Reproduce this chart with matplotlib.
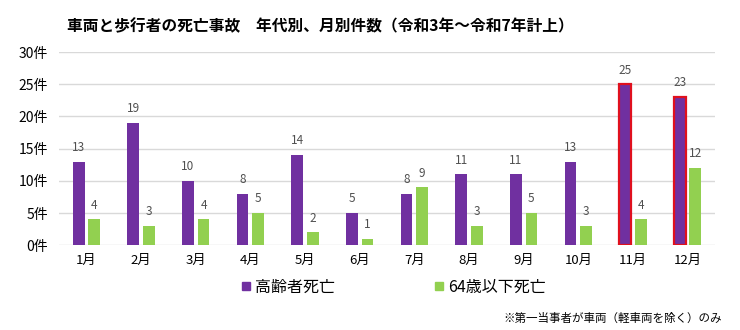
import numpy as np
import matplotlib.pyplot as plt
from matplotlib.lines import Line2D

plt.rcParams['font.family'] = ['Noto Sans CJK JP', 'DejaVu Sans']

months = ['1月', '2月', '3月', '4月', '5月', '6月', '7月', '8月', '9月', '10月', '11月', '12月']
elderly = [13, 19, 10, 8, 14, 5, 8, 11, 11, 13, 25, 23]
under64 = [4, 3, 4, 5, 2, 1, 9, 3, 5, 3, 4, 12]
highlight = ['11月', '12月']
yticks = [0, 5, 10, 15, 20, 25, 30]

purple = '#7030A0'
green = '#92D050'

fig = plt.figure(figsize=(7.4, 3.3), dpi=100)
ax = fig.add_axes([0.08, 0.257, 0.886, 0.585])

x = np.arange(len(months))
w = 0.215
edge = ['#E0101E' if m in highlight else purple for m in months]
lw = [1.6 if m in highlight else 0 for m in months]
b1 = ax.bar(x - 0.143, elderly, w, color=purple, edgecolor=edge, linewidth=lw, zorder=3)
b2 = ax.bar(x + 0.143, under64, w, color=green, zorder=3)

for rects, vals in [(b1, elderly), (b2, under64)]:
    for r, v in zip(rects, vals):
        ax.text(r.get_x() + r.get_width() / 2, v + 1.2, str(v), ha='center', va='bottom',
                fontsize=8.5, color='#505050')

ax.set_xlim(-0.5, len(months) - 0.5)
ax.set_ylim(0, 30)
ax.set_yticks(yticks)
ax.set_yticklabels([f'{t}件' for t in yticks], fontsize=10)
ax.set_xticks(x)
ax.set_xticklabels(months, fontsize=9.5)
ax.tick_params(length=0, pad=6)
ax.tick_params(axis='y', pad=8)
ax.grid(axis='y', color='#D9D9D9', linewidth=1, zorder=0)
for s in ax.spines.values():
    s.set_visible(False)

fig.text(0.091, 0.92, '車両と歩行者の死亡事故　年代別、月別件数（令和3年～令和7年計上）',
         fontsize=11.3, fontweight='bold', va='center', ha='left')

handles = [Line2D([], [], marker='s', color=purple, linestyle='none', markersize=6),
           Line2D([], [], marker='s', color=green, linestyle='none', markersize=6)]
fig.legend(handles, ['高齢者死亡', '64歳以下死亡'], loc='center left',
           bbox_to_anchor=(0.307, 0.13), ncol=2, frameon=False, fontsize=11.5,
           handlelength=0.6, handletextpad=0.25, columnspacing=6.2)

fig.text(0.976, 0.036, '※第一当事者が車両（軽車両を除く）のみ', fontsize=8.3, ha='right', va='center')

fig.savefig('out.png', dpi=100)
